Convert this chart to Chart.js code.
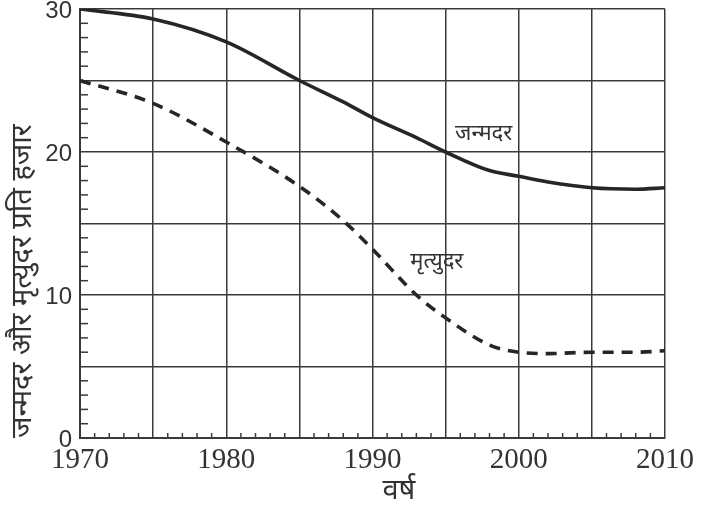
<!DOCTYPE html>
<html>
<head>
<meta charset="utf-8">
<script src="https://cdn.jsdelivr.net/npm/chart.js@4.4.1/dist/chart.umd.min.js"></script>
<style>
  html, body { margin: 0; padding: 0; background: #fff; }
  #wrap { width: 712px; height: 510px; }
</style>
</head>
<body>
<div id="wrap"><canvas id="grafico"></canvas></div>
<script>
// values
const anos = [1970, 1975, 1980, 1985, 1988, 1990, 1993, 1995, 1998, 2000, 2002, 2005, 2008, 2010];
const natalidade = [30, 29.3, 27.7, 25.0, 23.5, 22.4, 21.0, 20.0, 18.7, 18.3, 17.9, 17.5, 17.4, 17.5];
const mortalidade = [25, 23.4, 20.7, 17.6, 15.2, 13.2, 10.0, 8.4, 6.5, 6.0, 5.9, 6.0, 6.0, 6.1];

const rotuloX = "वर्ष";
const rotuloY = "जन्मदर और मृत्युदर प्रति हजार";
const rotulos = [
  { texto: "जन्मदर", x: 1997.6, y: 21.3 },
  { texto: "मृत्युदर", x: 1994.4, y: 12.3 }
];

const corLinha = "#262626";
const corGrade = "#3a3a3a";
const fonteDev = "'Noto Sans', 'Noto Sans Devanagari', sans-serif";

// minor ticks + text labels
const extras = {
  id: "extras",
  afterDraw(chart) {
    const { ctx, scales: { x, y } } = chart;
    ctx.save();
    ctx.strokeStyle = corGrade;
    ctx.lineWidth = 1.5;
    for (let a = 1970; a <= 2010; a++) {
      if (a % 5 === 0) continue;
      const px = x.getPixelForValue(a);
      ctx.beginPath();
      ctx.moveTo(px, y.bottom);
      ctx.lineTo(px, y.bottom - 5);
      ctx.stroke();
    }
    for (let v = 0; v <= 30; v++) {
      if (v % 5 === 0) continue;
      const py = y.getPixelForValue(v);
      ctx.beginPath();
      ctx.moveTo(x.left, py);
      ctx.lineTo(x.left + 8, py);
      ctx.stroke();
    }
    ctx.fillStyle = "#333";
    ctx.textAlign = "center";
    ctx.textBaseline = "middle";
    ctx.font = "22px " + fonteDev;
    rotulos.forEach(r => {
      ctx.fillText(r.texto, x.getPixelForValue(r.x), y.getPixelForValue(r.y));
    });
    ctx.font = "29px " + fonteDev;
    ctx.fillText(rotuloX, x.getPixelForValue(1991.8), 491);
    ctx.restore();
  }
};

new Chart(document.getElementById("grafico"), {
  type: "line",
  data: {
    datasets: [
      {
        label: "जन्मदर",
        data: anos.map((a, i) => ({ x: a, y: natalidade[i] })),
        borderColor: corLinha,
        borderWidth: 3.6,
        pointRadius: 0,
        cubicInterpolationMode: "monotone"
      },
      {
        label: "मृत्युदर",
        data: anos.map((a, i) => ({ x: a, y: mortalidade[i] })),
        borderColor: corLinha,
        borderWidth: 3.6,
        borderDash: [11, 8],
        pointRadius: 0,
        cubicInterpolationMode: "monotone"
      }
    ]
  },
  options: {
    responsive: true,
    maintainAspectRatio: false,
    animation: false,
    layout: { padding: { top: 9, right: 47, left: 0, bottom: 0 } },
    plugins: {
      legend: { display: false },
      tooltip: { enabled: false }
    },
    scales: {
      x: {
        type: "linear",
        min: 1970,
        max: 2010,
        afterFit: s => { s.height = 72; },
        grid: { color: corGrade, lineWidth: 1.5, drawTicks: false },
        border: { color: corGrade, width: 2 },
        ticks: {
          stepSize: 5,
          padding: 5,
          color: "#333",
          maxRotation: 0,
          font: { family: "'Liberation Serif', serif", size: 29 },
          callback: v => (v % 10 === 0 ? String(v) : "")
        }
      },
      y: {
        min: 0,
        max: 30,
        afterFit: s => { s.width = 80; s.paddingTop = 0; s.paddingBottom = 0; },
        grid: { color: corGrade, lineWidth: 1.5, drawTicks: false },
        border: { color: corGrade, width: 2 },
        ticks: {
          stepSize: 5,
          padding: 8,
          labelOffset: 2,
          color: "#333",
          font: { family: "'Liberation Sans', sans-serif", size: 24 },
          callback: v => (v % 10 === 0 ? String(v) : "")
        },
        title: {
          display: true,
          text: rotuloY,
          align: "start",
          color: "#333",
          padding: { top: 5, bottom: 0 },
          font: { family: fonteDev, size: 29 }
        }
      }
    }
  },
  plugins: [extras]
});
</script>
</body>
</html>
